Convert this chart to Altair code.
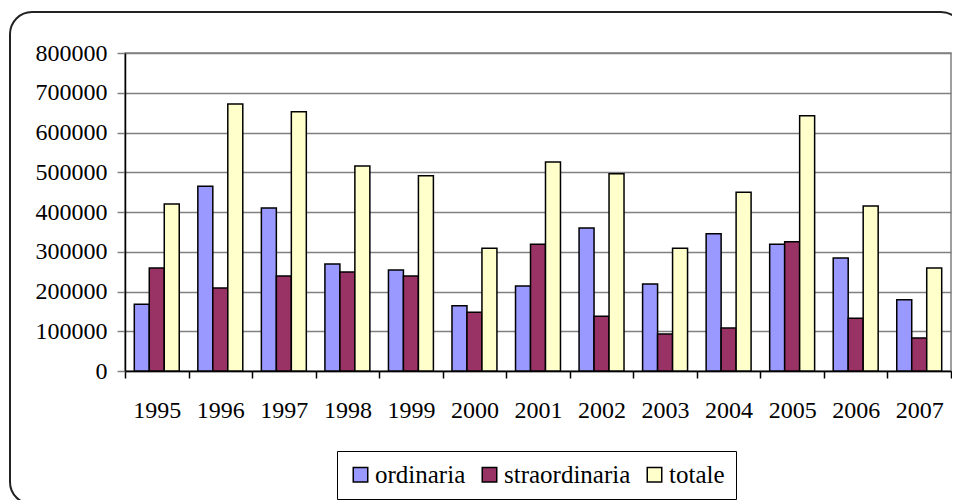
import altair as alt
import pandas as pd

years = ["1995", "1996", "1997", "1998", "1999", "2000", "2001",
         "2002", "2003", "2004", "2005", "2006", "2007"]
ordinaria = [168000, 465000, 410000, 269000, 254000, 164000, 214000,
             360000, 219000, 345000, 319000, 284000, 179000]
straordinaria = [259000, 209000, 239000, 249000, 239000, 148000, 319000,
                 138000, 93000, 108000, 325000, 133000, 83000]
totale = [420000, 672000, 652000, 516000, 491000, 309000, 526000,
          496000, 309000, 450000, 642000, 415000, 259000]
series = ["ordinaria", "straordinaria", "totale"]
colors = ["#9999FF", "#993366", "#FFFFCC"]
y_ticks = [0, 100000, 200000, 300000, 400000, 500000, 600000, 700000, 800000]

rows = []
for name, vals in zip(series, [ordinaria, straordinaria, totale]):
    for yr, v in zip(years, vals):
        rows.append({"anno": yr, "serie": name, "valore": v})
df = pd.DataFrame(rows)

FONT = "Liberation Serif"

bars = alt.Chart(df).mark_bar(stroke="black", strokeWidth=1.5).encode(
    x=alt.X("anno:O", sort=years, title=None,
            scale=alt.Scale(paddingInner=0, paddingOuter=0),
            axis=alt.Axis(labelAngle=0, tickBand="extent", tickSize=7,
                          tickColor="black", domainColor="black",
                          domainWidth=1.5, tickWidth=1.5,
                          labelFont=FONT, labelFontSize=24, labelColor="black",
                          labelPadding=20, grid=False)),
    xOffset=alt.XOffset("serie:N", sort=series,
                        scale=alt.Scale(paddingOuter=0.62, paddingInner=0)),
    y=alt.Y("valore:Q", title=None,
            scale=alt.Scale(domain=[0, 800000], nice=False),
            axis=alt.Axis(values=y_ticks, format="d", tickSize=8,
                          tickColor="#808080", tickWidth=1.5,
                          domainColor="black", domainWidth=1.5,
                          gridColor="#808080", gridWidth=1.5, gridOpacity=1,
                          labelFont=FONT, labelFontSize=24, labelColor="black",
                          labelPadding=10)),
    color=alt.Color("serie:N", sort=series,
                    scale=alt.Scale(domain=series, range=colors),
                    legend=alt.Legend(title=None, orient="none", direction="horizontal",
                                      legendX=212, legendY=398,
                                      symbolType="square", symbolSize=210,
                                      symbolStrokeColor="black", symbolStrokeWidth=1.5,
                                      symbolOpacity=1,
                                      labelFont=FONT, labelFontSize=25,
                                      labelColor="black", labelOffset=2,
                                      columnPadding=11, padding=11,
                                      strokeColor="black")),
)

frame = alt.Chart(pd.DataFrame({"k": [0]})).mark_rect(
    filled=False, stroke="#222222", strokeWidth=2, cornerRadius=22
).encode(
    x=alt.value(-115), x2=alt.value(838),
    y=alt.value(-41), y2=alt.value(451),
)

chart = alt.layer(frame, bars).properties(
    width=826, height=318,
    autosize=alt.AutoSizeParams(type="none"),
    padding={"left": 117, "top": 45, "right": 1, "bottom": 129},
    background="white",
).configure_view(stroke="#808080", strokeWidth=1.5)

chart.save("out.html", embed_options={"renderer": "svg", "actions": False})
